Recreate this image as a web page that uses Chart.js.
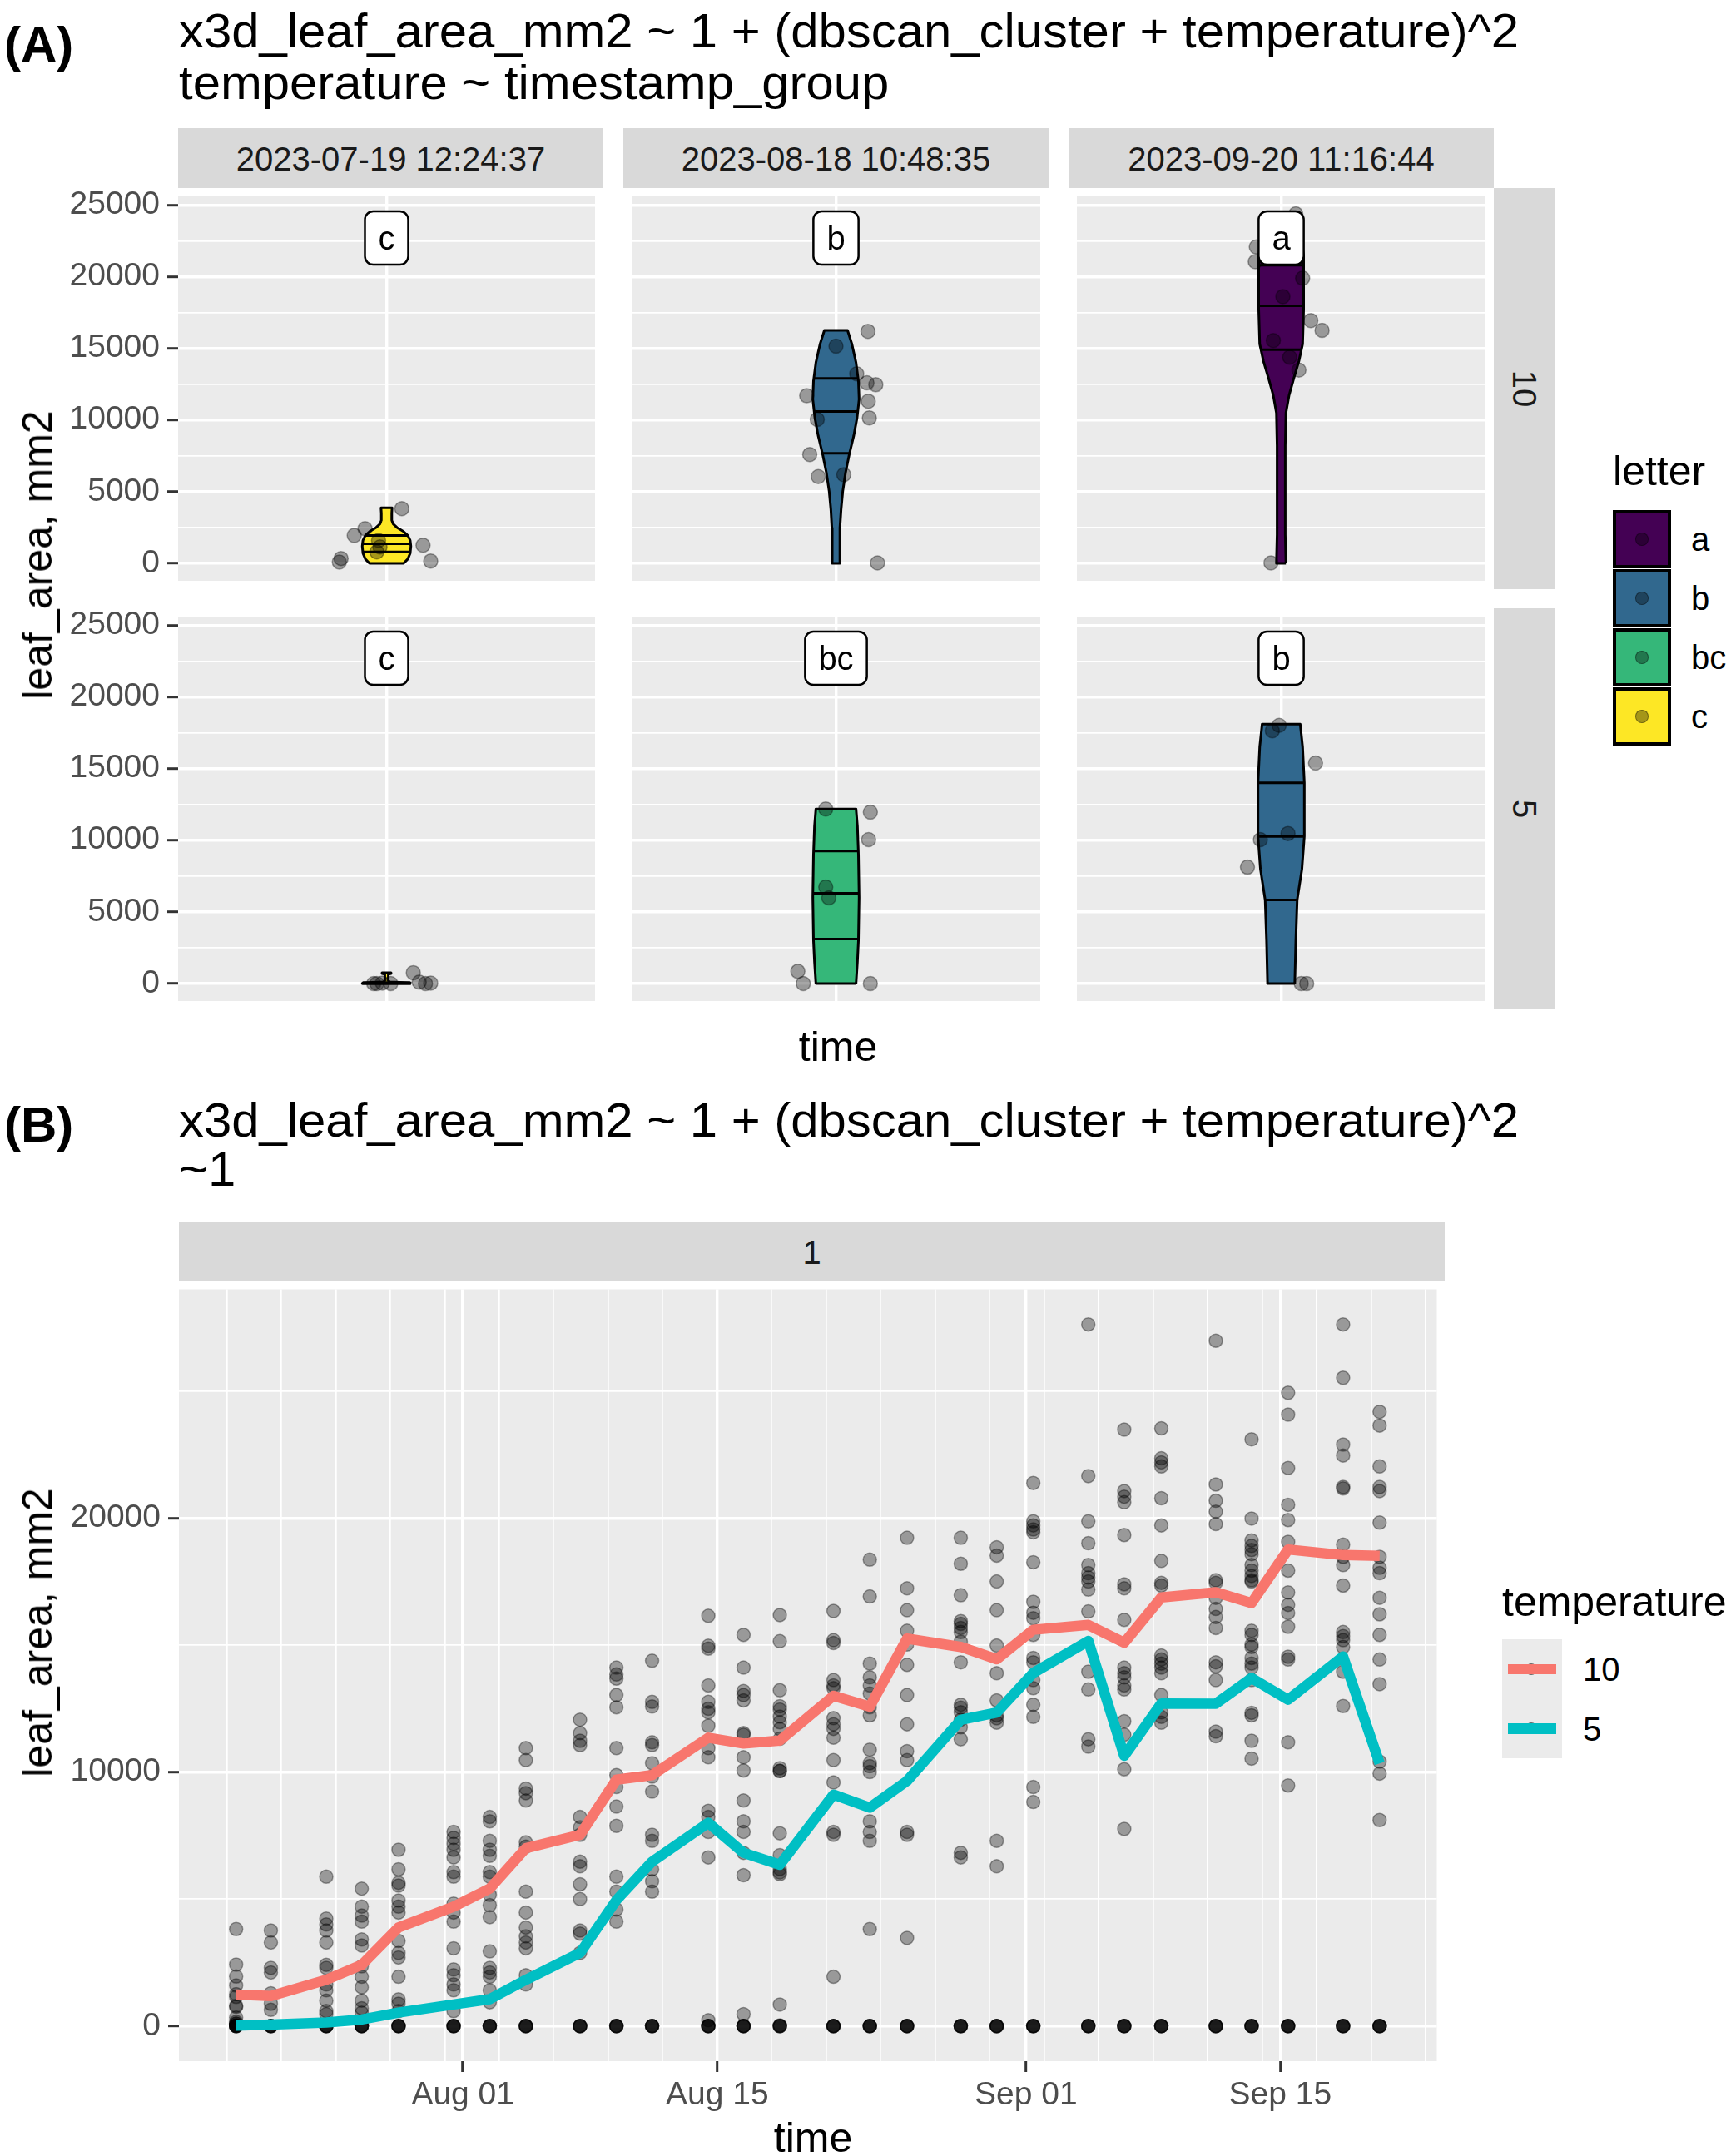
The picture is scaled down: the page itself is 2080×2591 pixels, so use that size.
<!DOCTYPE html>
<html>
<head>
<meta charset="UTF-8" />
<title>leaf area</title>
<style>
  body { margin: 0; background: #ffffff; }
  #page { position: relative; width: 2080px; height: 2591px; overflow: hidden;
          font-family: "Liberation Sans", Arial, Helvetica, sans-serif; color: #000; }
  .strip { position: absolute; background: #D9D9D9; }
  .key { position: absolute; box-sizing: border-box; }
  .dot { position: absolute; box-sizing: border-box; border-radius: 50%;
         background: rgba(0,0,0,0.35); border: 1.5px solid rgba(0,0,0,0.35); }
</style>
</head>
<body>
<div id="page"></div>
<script src="https://cdn.jsdelivr.net/npm/chart.js"></script>
<script>
// ---------- panel A data ----------
const stripDates = ['2023-07-19 12:24:37', '2023-08-18 10:48:35', '2023-09-20 11:16:44'];
const stripTemps = ['10', '5'];
const facetLetters = [['c', 'b', 'a'], ['c', 'bc', 'b']];
const letterNames = ['a', 'b', 'bc', 'c'];
const letterColors = ['#440154', '#31688E', '#35B779', '#FDE725'];
const letterLabelY = 22700;

// jittered points: value and horizontal jitter (category centre = 1)
const ptsJul10 = [3820, 2420, 1950, 1260, 340, 90, 165, 1600, 1150, 800];
const jitJul10 = [0.044, -0.062, -0.093, 0.105, -0.131, -0.136, 0.127, -0.023, -0.019, -0.028];
const ptsAug10 = [16180, 15150, 13220, 12590, 12460, 11310, 10150, 11690, 10040, 7590, 6050, 6180, 30];
const jitAug10 = [0.094, 0.000, 0.061, 0.091, 0.117, 0.095, 0.098, -0.086, -0.055, -0.077, -0.052, 0.023, 0.122];
const ptsSep10 = [24380, 22070, 21040, 19890, 18610, 16940, 16250, 15540, 14380, 13480, 30];
const jitSep10 = [0.043, -0.073, -0.076, 0.063, 0.005, 0.087, 0.120, -0.023, 0.025, 0.052, -0.030];
const ptsJul5 = [0, 30, 0, 760, 100, 0, 30, 0];
const jitJul5 = [-0.028, -0.012, 0.012, 0.077, 0.094, 0.112, 0.127, -0.037];
const ptsAug5 = [12180, 6730, 5980, 850, 0, 11960, 10040, 0];
const jitAug5 = [-0.030, -0.030, -0.021, -0.112, -0.096, 0.101, 0.096, 0.101];
const ptsSep5 = [18010, 17630, 15380, 10470, 10040, 8120, 0, 0];
const jitSep5 = [-0.006, -0.026, 0.101, 0.020, -0.061, -0.099, 0.059, 0.075];

// violin outlines: levels and half widths (x units), quantile lines
const vioLvJul10 = [0, 300, 700, 1200, 1600, 1950, 2250, 2500, 2750, 3000, 3500, 3880];
const vioHwJul10 = [0.049, 0.061, 0.068, 0.070, 0.068, 0.061, 0.047, 0.030, 0.019, 0.015, 0.015, 0.016];
const qLvJul10 = [800, 1370, 1950];
const qHwJul10 = [0.069, 0.070, 0.061];
const vioLvAug10 = [0, 1190, 2470, 3750, 5030, 6310, 7590, 8870, 10150, 11440, 12720, 14000, 15280, 16250];
const vioHwAug10 = [0.011, 0.011, 0.012, 0.015, 0.020, 0.028, 0.039, 0.052, 0.062, 0.068, 0.066, 0.059, 0.047, 0.034];
const qLvAug10 = [7670, 10590, 12900];
const qHwAug10 = [0.040, 0.064, 0.066];
const vioLvSep10 = [0, 2000, 3600, 5900, 8200, 10500, 11700, 12900, 14100, 15300, 17700, 20100, 21500, 22500, 23500, 24380];
const vioHwSep10 = [0.014, 0.012, 0.012, 0.012, 0.012, 0.014, 0.023, 0.037, 0.052, 0.063, 0.066, 0.066, 0.066, 0.059, 0.042, 0.019];
const qLvSep10 = [14900, 17970, 20790];
const qHwSep10 = [0.061, 0.066, 0.066];
const vioLvJul5 = [0, 60, 120, 200, 650, 700, 760];
const vioHwJul5 = [0.070, 0.068, 0.009, 0.005, 0.005, 0.013, 0.013];
const qLvJul5 = [0, 25, 60];
const qHwJul5 = [0.070, 0.070, 0.068];
const vioLvAug5 = [0, 1500, 3000, 6000, 9000, 11000, 12180];
const vioHwAug5 = [0.059, 0.063, 0.066, 0.068, 0.066, 0.063, 0.059];
const qLvAug5 = [3100, 6300, 9250];
const qHwAug5 = [0.066, 0.068, 0.066];
const vioLvSep5 = [0, 3000, 5830, 8000, 10260, 14000, 16500, 18090];
const vioHwSep5 = [0.040, 0.043, 0.047, 0.061, 0.068, 0.068, 0.063, 0.056];
const qLvSep5 = [5830, 10260, 14000];
const qHwSep5 = [0.047, 0.068, 0.068];

const yTicksA = [0, 5000, 10000, 15000, 20000, 25000];
const yMinorA = [2500, 7500, 12500, 17500, 22500];

// ---------- panel B data ----------
const sampleTimes = ['2023-07-19 12:24', '2023-07-21 10:20', '2023-07-24 11:30', '2023-07-26 10:20',
  '2023-07-28 11:00', '2023-07-31 11:45', '2023-08-02 11:30', '2023-08-04 11:15', '2023-08-07 10:50',
  '2023-08-09 10:50', '2023-08-11 10:00', '2023-08-14 12:15', '2023-08-16 10:50', '2023-08-18 10:48',
  '2023-08-21 09:40', '2023-08-23 09:40', '2023-08-25 10:50', '2023-08-28 09:50', '2023-08-30 09:20',
  '2023-09-01 09:40', '2023-09-04 10:20', '2023-09-06 09:50', '2023-09-08 10:50', '2023-09-11 10:50',
  '2023-09-13 10:05', '2023-09-15 10:20', '2023-09-18 11:00', '2023-09-20 11:16'];
const pointsByDate = [
  [3820, 2420, 1950, 1600, 1260, 1150, 800, 760, 340, 165, 100, 90, 30, 30, 0, 0, 0, 0, 0],
  [3760, 3290, 2290, 2110, 1290, 880, 640, 0, 0, 0, 0, 0],
  [5880, 4230, 4000, 3760, 3290, 2410, 2290, 1640, 1410, 1000, 590, 470, 0, 0, 0, 0, 0],
  [5410, 4700, 4350, 4110, 3410, 3170, 2350, 1940, 1530, 1000, 700, 530, 0, 0, 0, 0, 0],
  [6940, 6170, 5640, 5530, 4940, 4700, 4470, 3350, 2880, 2700, 1940, 1050, 880, 590, 0, 0, 0, 0, 0],
  [7640, 7410, 7170, 6940, 6640, 6060, 5880, 4820, 4470, 4110, 3060, 2230, 2000, 1640, 1410, 590, 0, 0, 0, 0, 0],
  [8230, 8060, 7290, 6940, 6700, 6060, 5880, 5170, 4760, 4290, 2940, 2290, 2110, 1940, 1410, 940, 0, 0, 0, 0, 0],
  [10940, 10470, 9350, 9170, 8880, 7230, 7060, 5290, 4470, 3880, 3530, 3290, 3060, 2000, 1640, 0, 0, 0, 0, 0],
  [12060, 11530, 11230, 11060, 8230, 7820, 7530, 6470, 6290, 5580, 5000, 3760, 3640, 2880, 0, 0, 0, 0, 0],
  [14110, 13840, 13680, 13030, 12550, 10940, 9880, 9410, 8640, 7880, 5880, 5290, 4590, 4110, 0, 0, 0, 0, 0],
  [14380, 12760, 12580, 11170, 11060, 10350, 9820, 9230, 7530, 7290, 6170, 5700, 5290, 0, 0, 0, 0, 0],
  [16150, 14970, 14860, 13410, 12760, 12490, 12350, 11820, 10940, 10580, 8470, 8230, 7640, 6640, 230, 0, 0, 0, 0, 0],
  [15400, 14110, 13190, 13030, 12820, 11530, 11470, 10580, 10060, 8880, 8060, 7640, 6820, 5940, 470, 0, 0, 0, 0, 0],
  [16180, 15150, 13220, 12590, 12460, 12180, 11960, 11690, 11310, 10150, 10040, 10040, 7590, 6730, 6180, 6050, 5980, 850, 30, 0, 0, 0, 0],
  [16340, 15190, 15080, 13620, 13410, 13300, 12120, 11880, 11700, 11350, 10470, 9590, 7640, 7530, 1940, 0, 0, 0, 0, 0],
  [18360, 16910, 14270, 13730, 13410, 13090, 12550, 12230, 10880, 10350, 10230, 10000, 8060, 7640, 7290, 3820, 0, 0, 0, 0, 0],
  [19220, 17230, 16370, 15560, 15020, 14220, 13030, 11880, 10820, 10470, 7640, 7530, 3470, 0, 0, 0, 0, 0],
  [19220, 18200, 16960, 15940, 15830, 15670, 15510, 15130, 14320, 12650, 12530, 12350, 12060, 11760, 11290, 6820, 6640, 0, 0, 0, 0, 0],
  [18850, 18520, 17500, 16370, 14980, 13890, 12820, 12230, 12115, 11940, 7290, 6290, 0, 0, 0, 0, 0],
  [21380, 19870, 19710, 19550, 19440, 18260, 16700, 16270, 16050, 15400, 14490, 14320, 13620, 13300, 12650, 12170, 9410, 8820, 0, 0, 0, 0, 0],
  [27620, 21650, 19870, 19010, 18150, 17830, 17660, 17500, 17180, 16320, 13950, 13250, 11290, 11000, 0, 0, 0, 0, 0],
  [23480, 21060, 20840, 20620, 19330, 17390, 17230, 15990, 14110, 13890, 13730, 13410, 13250, 12000, 11470, 10110, 7760, 0, 0, 0, 0, 0],
  [23530, 22350, 22190, 22030, 20780, 19710, 18310, 17450, 17340, 14590, 14430, 14270, 14110, 13890, 13030, 12350, 12170, 11940, 0, 0, 0, 0, 0],
  [26980, 21320, 20680, 20250, 19760, 17550, 17450, 16860, 16420, 16100, 15670, 14320, 14160, 13620, 11590, 11410, 0, 0, 0, 0, 0],
  [23100, 19980, 19120, 18900, 18740, 18580, 18150, 17930, 17720, 17550, 17500, 15560, 15400, 15020, 14920, 14490, 14270, 14110, 13620, 12330, 12230, 11230, 10530, 0, 0, 0, 0, 0],
  [24930, 24070, 21970, 20520, 19920, 19060, 17930, 17070, 16580, 16260, 15720, 14540, 14430, 11170, 9470, 0, 0, 0, 0, 0],
  [27620, 25520, 22890, 22460, 21220, 21160, 18950, 18470, 18150, 17340, 15510, 15350, 15190, 14920, 13950, 12600, 0, 0, 0, 0, 0],
  [24180, 23640, 22030, 21220, 21060, 19820, 18470, 18040, 17830, 16860, 16210, 15400, 14430, 13460, 10410, 9940, 8110, 0, 0, 0, 0, 0]
];
const mean10 = [1240, 1180, 1820, 2410, 3880, 4700, 5410, 7000, 7530, 9700, 9880, 11350, 11120, 11240,
  13000, 12570, 15250, 14925, 14440, 15600, 15790, 15090, 16870, 17080, 16650, 18760, 18540, 18510];
const mean5 = [20, 60, 140, 260, 530, 850, 1060, 1820, 2880, 4960, 6470, 8000, 6820, 6350,
  9110, 8600, 9650, 12050, 12340, 13900, 15160, 10640, 12700, 12690, 13700, 12850, 14550, 10340];
const tempNames = ['10', '5'];
const tempColors = ['#F8766D', '#00BFC4'];

const xTickDates = ['2023-08-01 00:00', '2023-08-15 00:00', '2023-09-01 00:00', '2023-09-15 00:00'];
const xTickLabels = ['Aug 01', 'Aug 15', 'Sep 01', 'Sep 15'];
const xMinorStart = '2023-07-19 00:00';
const yTicksB = [0, 10000, 20000];
const yMinorB = [5000, 15000, 25000];

// ---------- helpers ----------
const FONT = '"Liberation Sans", Arial, Helvetica, sans-serif';
Chart.defaults.font.family = FONT;
const page = document.getElementById('page');
const PT = 'rgba(0,0,0,0.35)';

const dayNum = s => (Date.parse(s.replace(' ', 'T') + ':00Z') - Date.parse('2023-07-01T00:00:00Z')) / 864e5;

function addCanvas(x, y, w, h) {
  const c = document.createElement('canvas');
  c.width = w; c.height = h;
  c.style.cssText = `position:absolute;left:${x}px;top:${y}px;width:${w}px;height:${h}px`;
  page.appendChild(c);
  return c;
}

// text placed by its baseline
function textAt(str, x, base, size, o = {}) {
  const d = document.createElement('div');
  d.textContent = str;
  let tx = o.align === 'center' ? 'translateX(-50%)' : '';
  if (o.sx) tx += ` scaleX(${o.sx})`;
  d.style.cssText = `position:absolute;left:${x}px;top:${base - 0.8465 * size}px;font-size:${size}px;` +
    `line-height:1;white-space:nowrap;transform:${tx};transform-origin:left top;color:${o.color || '#000'};` +
    `font-weight:${o.bold ? 'bold' : 'normal'}`;
  page.appendChild(d);
}

// text centred on a point, optionally rotated
function textMid(str, cx, cy, size, rot, color) {
  const d = document.createElement('div');
  d.textContent = str;
  d.style.cssText = `position:absolute;left:${cx}px;top:${cy}px;font-size:${size}px;line-height:1;` +
    `white-space:nowrap;transform:translate(-50%,-50%) rotate(${rot}deg);color:${color || '#000'}`;
  page.appendChild(d);
}

function box(cls, x, y, w, h, css) {
  const d = document.createElement('div');
  d.className = cls;
  d.style.cssText = `left:${x}px;top:${y}px;width:${w}px;height:${h}px;` + (css || '');
  page.appendChild(d);
  return d;
}

const panelBg = {
  id: 'panelBg',
  beforeDraw(chart) {
    const { ctx, chartArea: a } = chart;
    ctx.save();
    ctx.fillStyle = '#EBEBEB';
    ctx.fillRect(a.left, a.top, a.right - a.left, a.bottom - a.top);
    ctx.restore();
  }
};

const letterBox = {
  id: 'letterBox',
  afterDatasetsDraw(chart, args, opts) {
    const ctx = chart.ctx;
    const px = chart.scales.x.getPixelForValue(1);
    const py = chart.scales.y.getPixelForValue(opts.y);
    ctx.save();
    ctx.font = '40px ' + FONT;
    const w = ctx.measureText(opts.text).width + 32, h = 64;
    ctx.beginPath();
    ctx.roundRect(px - w / 2, py - h / 2, w, h, 10);
    ctx.fillStyle = '#FFFFFF';
    ctx.fill();
    ctx.lineWidth = 2.5;
    ctx.strokeStyle = '#000000';
    ctx.stroke();
    ctx.fillStyle = '#000000';
    ctx.textAlign = 'center';
    ctx.textBaseline = 'alphabetic';
    ctx.fillText(opts.text, px, py + 14);
    ctx.restore();
  }
};

function violinPath(lv, hw) {
  const right = lv.map((v, i) => ({ x: 1 + hw[i], y: v }));
  const left = lv.map((v, i) => ({ x: 1 - hw[i], y: v })).reverse();
  return right.concat(left, [right[0]]);
}

// ---------- titles ----------
textAt('(A)', 5, 75, 60, { bold: true });
textAt('x3d_leaf_area_mm2 ~ 1 + (dbscan_cluster + temperature)^2', 215, 57, 57, { sx: 1.05 });
textAt('temperature ~ timestamp_group', 215, 119, 57, { sx: 1.05 });
textAt('(B)', 5, 1373, 60, { bold: true });
textAt('x3d_leaf_area_mm2 ~ 1 + (dbscan_cluster + temperature)^2', 215, 1366, 57, { sx: 1.05 });
textAt('~1', 215, 1425, 57, { sx: 1.05 });

// ---------- panel A ----------
const colX = [214, 749, 1284];
const rowY = [226, 731];
const facetW = 511, facetH = 482;
const yAllA = ptsJul10.concat(ptsAug10, ptsSep10, ptsJul5, ptsAug5, ptsSep5);
const yMaxDataA = Math.max(...yAllA);
const yMinA = -0.05 * yMaxDataA, yMaxA = 1.05 * yMaxDataA;

stripDates.forEach((s, c) => {
  box('strip', colX[c], 154, facetW, 72);
  textAt(s, colX[c] + facetW / 2, 205, 40, { align: 'center', color: '#1A1A1A' });
});
stripTemps.forEach((s, r) => {
  box('strip', 1795, rowY[r], 74, facetH);
  textMid(s, 1832, rowY[r] + facetH / 2, 40, 90, '#1A1A1A');
});

const facets = [
  { row: 0, col: 0, pts: ptsJul10, jit: jitJul10, lv: vioLvJul10, hw: vioHwJul10, qlv: qLvJul10, qhw: qHwJul10 },
  { row: 0, col: 1, pts: ptsAug10, jit: jitAug10, lv: vioLvAug10, hw: vioHwAug10, qlv: qLvAug10, qhw: qHwAug10 },
  { row: 0, col: 2, pts: ptsSep10, jit: jitSep10, lv: vioLvSep10, hw: vioHwSep10, qlv: qLvSep10, qhw: qHwSep10 },
  { row: 1, col: 0, pts: ptsJul5, jit: jitJul5, lv: vioLvJul5, hw: vioHwJul5, qlv: qLvJul5, qhw: qHwJul5 },
  { row: 1, col: 1, pts: ptsAug5, jit: jitAug5, lv: vioLvAug5, hw: vioHwAug5, qlv: qLvAug5, qhw: qHwAug5 },
  { row: 1, col: 2, pts: ptsSep5, jit: jitSep5, lv: vioLvSep5, hw: vioHwSep5, qlv: qLvSep5, qhw: qHwSep5 }
];

const isMajA = v => yTicksA.includes(v);

facets.forEach(f => {
  const showY = f.col === 0;
  const axisW = showY ? 200 : 0;
  const letter = facetLetters[f.row][f.col];
  const fillCol = letterColors[letterNames.indexOf(letter)];
  const cv = addCanvas(colX[f.col] - axisW, rowY[f.row], facetW + axisW, facetH);

  const datasets = [
    {
      data: f.pts.map((v, i) => ({ x: 1 + f.jit[i], y: v })),
      pointRadius: 8.5, backgroundColor: PT, borderColor: PT, borderWidth: 1.5, order: 1
    },
    ...f.qlv.map((q, i) => ({
      data: [{ x: 1 - f.qhw[i], y: q }, { x: 1 + f.qhw[i], y: q }],
      showLine: true, pointRadius: 0, borderColor: '#000000', borderWidth: 3, order: 2
    })),
    {
      data: violinPath(f.lv, f.hw), showLine: true, fill: 'shape',
      backgroundColor: fillCol, borderColor: '#000000', borderWidth: 3,
      borderJoinStyle: 'round', pointRadius: 0, order: 3
    }
  ];

  new Chart(cv, {
    type: 'scatter',
    data: { datasets },
    plugins: [panelBg, letterBox],
    options: {
      responsive: false, animation: false, events: [],
      layout: { padding: 0 },
      plugins: { legend: { display: false }, tooltip: { enabled: false },
                 letterBox: { text: letter, y: letterLabelY } },
      scales: {
        x: {
          type: 'linear', min: 0.4, max: 1.6,
          afterBuildTicks: s => { s.ticks = [{ value: 1 }]; },
          afterFit: s => { s.height = 0; s.paddingLeft = 0; s.paddingRight = 0; },
          ticks: { display: false },
          grid: { color: '#FFFFFF', lineWidth: 3.4, drawTicks: false },
          border: { display: false }
        },
        y: {
          type: 'linear', min: yMinA, max: yMaxA,
          afterBuildTicks: s => {
            s.ticks = yTicksA.concat(yMinorA).sort((a, b) => a - b).map(v => ({ value: v }));
          },
          afterFit: s => { s.width = axisW; s.paddingTop = 0; s.paddingBottom = 0; },
          ticks: {
            display: showY, autoSkip: false, padding: 9, color: '#4D4D4D',
            font: { size: 39 },
            callback: v => (isMajA(v) ? String(v) : '')
          },
          grid: {
            color: '#FFFFFF',
            lineWidth: c => (isMajA(c.tick.value) ? 3.4 : 1.7),
            drawTicks: showY, tickLength: 13, tickWidth: 3,
            tickColor: c => (isMajA(c.tick.value) ? '#333333' : 'rgba(0,0,0,0)')
          },
          border: { display: false }
        }
      }
    }
  });
});

textMid('leaf_area, mm2', 45, 667, 50, -90);
textAt('time', 1007, 1275, 50, { align: 'center' });

// letter legend
textAt('letter', 1938, 583, 50);
letterNames.forEach((n, i) => {
  const top = 613 + 71 * i;
  box('key', 1938, top, 70, 70, `background:${letterColors[i]};border:4px solid #000;`);
  box('dot', 1965, top + 27, 16, 16);
  textAt(n, 2032, top + 49, 40);
});

// ---------- panel B ----------
box('strip', 215, 1469, 1521, 71);
textAt('1', 215 + 1521 / 2, 1519, 40, { align: 'center', color: '#1A1A1A' });

const tDays = sampleTimes.map(dayNum);
const tSpan = tDays[tDays.length - 1] - tDays[0];
const xMinB = tDays[0] - 0.05 * tSpan, xMaxB = tDays[tDays.length - 1] + 0.05 * tSpan;
const xMajB = xTickDates.map(dayNum);
const xMinorB = [];
for (let d = dayNum(xMinorStart); d <= xMaxB; d += 3) xMinorB.push(d);
const isMajX = v => xMajB.some(d => Math.abs(d - v) < 1e-6);
const xGridB = xMinorB.filter(d => !isMajX(d)).concat(xMajB).sort((a, b) => a - b);

const yMaxDataB = Math.max(...pointsByDate.flat());
const yMinB = -0.05 * yMaxDataB, yMaxB = 1.05 * yMaxDataB;
const isMajY = v => yTicksB.includes(v);

const bPoints = [];
tDays.forEach((d, i) => pointsByDate[i].forEach(v => bPoints.push({ x: d, y: v })));

const cvB = addCanvas(15, 1540, 1721, 1017);
new Chart(cvB, {
  type: 'scatter',
  data: {
    datasets: [
      { data: tDays.map((d, i) => ({ x: d, y: mean10[i] })), showLine: true, pointRadius: 0,
        borderColor: tempColors[0], borderWidth: 12.5, borderJoinStyle: 'round', order: 1 },
      { data: tDays.map((d, i) => ({ x: d, y: mean5[i] })), showLine: true, pointRadius: 0,
        borderColor: tempColors[1], borderWidth: 12.5, borderJoinStyle: 'round', order: 1 },
      { data: bPoints, pointRadius: 8, backgroundColor: PT, borderColor: PT, borderWidth: 1.5, order: 2 }
    ]
  },
  plugins: [panelBg],
  options: {
    responsive: false, animation: false, events: [],
    layout: { padding: 0 },
    plugins: { legend: { display: false }, tooltip: { enabled: false } },
    scales: {
      x: {
        type: 'linear', min: xMinB, max: xMaxB,
        afterBuildTicks: s => { s.ticks = xGridB.map(v => ({ value: v })); },
        afterFit: s => { s.height = 80; s.paddingLeft = 0; s.paddingRight = 0; },
        ticks: {
          autoSkip: false, maxRotation: 0, padding: 5, color: '#4D4D4D', font: { size: 39 },
          callback: v => { const i = xMajB.findIndex(d => Math.abs(d - v) < 1e-6); return i >= 0 ? xTickLabels[i] : ''; }
        },
        grid: {
          color: '#FFFFFF',
          lineWidth: c => (isMajX(c.tick.value) ? 3.4 : 1.7),
          tickLength: 13, tickWidth: 3,
          tickColor: c => (isMajX(c.tick.value) ? '#333333' : 'rgba(0,0,0,0)')
        },
        border: { display: false }
      },
      y: {
        type: 'linear', min: yMinB, max: yMaxB,
        afterBuildTicks: s => {
          s.ticks = yTicksB.concat(yMinorB).sort((a, b) => a - b).map(v => ({ value: v }));
        },
        afterFit: s => { s.width = 200; s.paddingTop = 0; s.paddingBottom = 0; },
        ticks: {
          autoSkip: false, padding: 9, color: '#4D4D4D', font: { size: 39 },
          callback: v => (isMajY(v) ? String(v) : '')
        },
        grid: {
          color: '#FFFFFF',
          lineWidth: c => (isMajY(c.tick.value) ? 3.4 : 1.7),
          tickLength: 13, tickWidth: 3,
          tickColor: c => (isMajY(c.tick.value) ? '#333333' : 'rgba(0,0,0,0)')
        },
        border: { display: false }
      }
    }
  }
});

textMid('leaf_area, mm2', 45, 1962, 50, -90);
textAt('time', 977, 2586, 50, { align: 'center' });

// temperature legend
textAt('temperature', 1805, 1942, 50);
tempNames.forEach((n, i) => {
  const top = 1970 + 71.5 * i;
  box('key', 1805, top, 72, 71.5, 'background:#EBEBEB;');
  box('dot', 1833, top + 28.75, 14, 14);
  box('key', 1812, top + 29.5, 58, 12.5, `background:${tempColors[i]};`);
  textAt(n, 1902, top + 50, 40);
});
</script>
</body>
</html>
